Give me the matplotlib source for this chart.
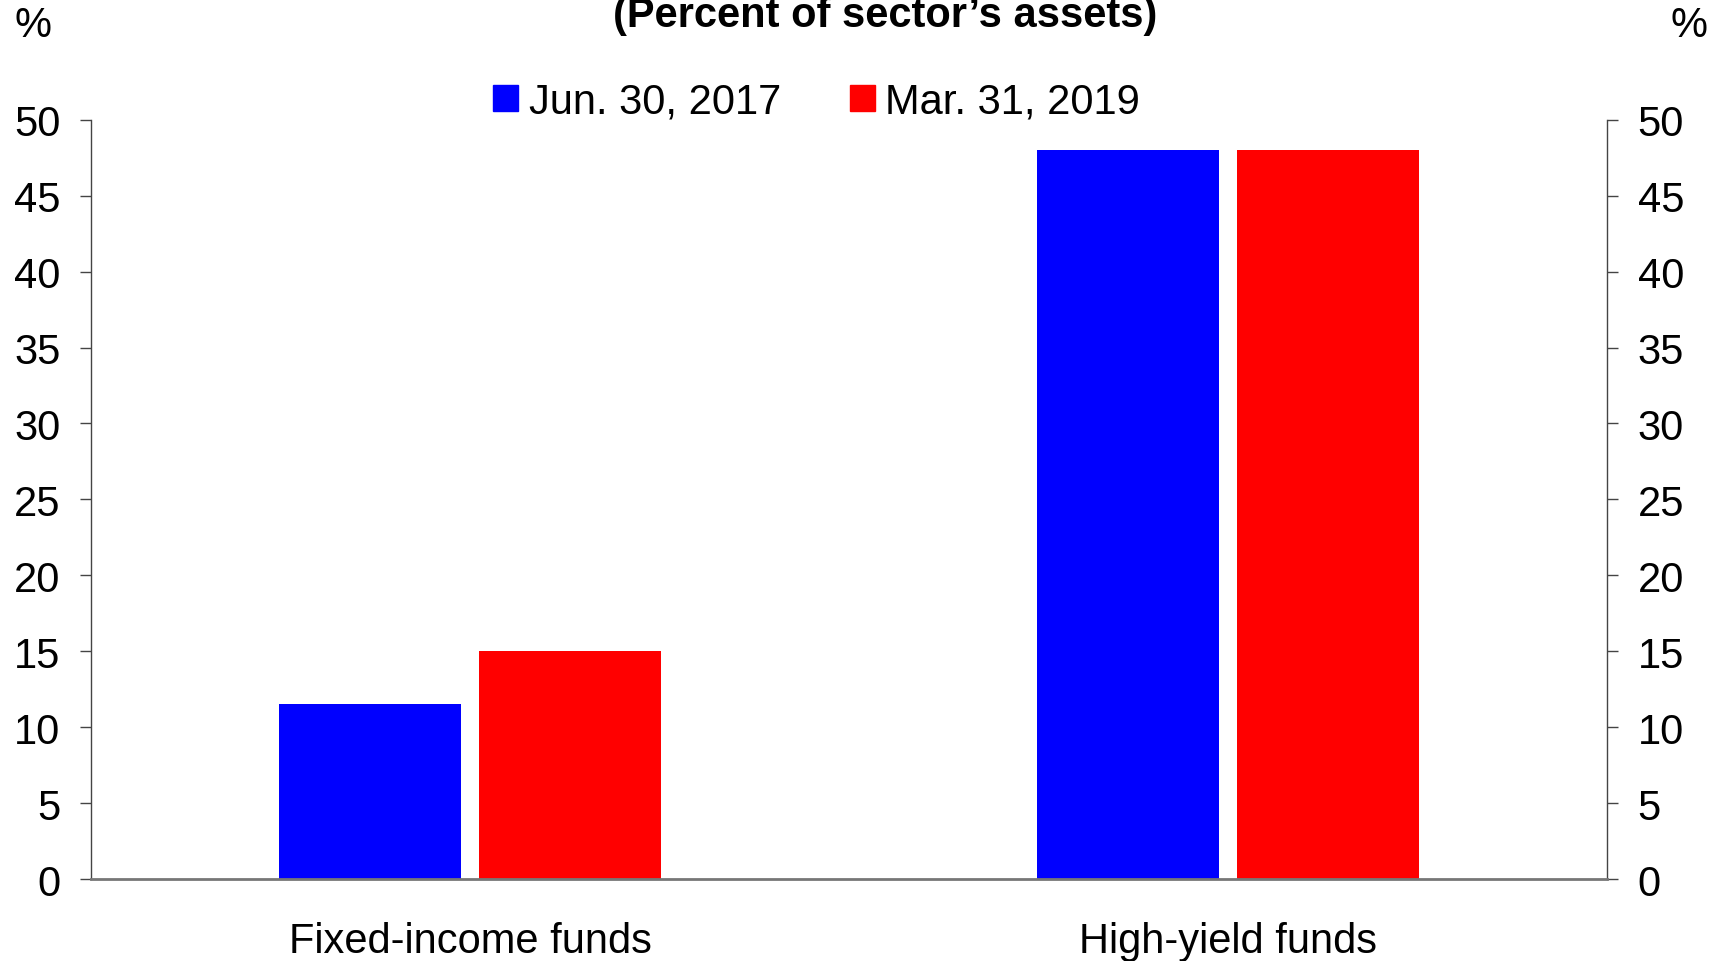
import matplotlib.pyplot as plt
import matplotlib.patches as mpatches
import numpy as np

plt.rcParams['font.family'] = ['Liberation Sans', 'DejaVu Sans']

categorias = ['Fixed-income funds', 'High-yield funds']
series = ['Jun. 30, 2017', 'Mar. 31, 2019']
valores_2017 = [11.5, 48.0]
valores_2019 = [15.0, 48.0]
cores = ['#0000ff', '#ff0000']

fig = plt.figure(figsize=(17.2, 9.62), dpi=100)
ax = fig.add_axes([0.0529, 0.0852, 0.8814, 0.7893])

x = np.arange(len(categorias))
larg = 0.241
desl = 0.132
ax.bar(x - desl, valores_2017, larg, color=cores[0], zorder=2)
ax.bar(x + desl, valores_2019, larg, color=cores[1], zorder=2)

ax.set_xlim(-0.5, 1.5)
ax.set_ylim(0, 50)
ax.set_yticks(range(0, 51, 5))
ax.set_xticks(x)
ax.set_xticklabels(categorias, fontsize=30)
ax.tick_params(axis='x', length=0, pad=30)
ax.tick_params(axis='y', labelsize=30, length=8, width=1, color='#444444',
               direction='out', left=True, right=True, labelright=True, pad=14)

ax.spines['top'].set_visible(False)
for lado in ['left', 'right']:
    ax.spines[lado].set_color('#444444')
    ax.spines[lado].set_linewidth(1)
ax.spines['bottom'].set_color('#777777')
ax.spines['bottom'].set_linewidth(2)

fig.text(0.5145, 0.972, "(Percent of sector\u2019s assets)", ha='center', va='baseline',
         fontsize=30, fontweight='bold')
fig.text(0.019, 0.962, '%', ha='center', va='baseline', fontsize=30)
fig.text(0.982, 0.962, '%', ha='center', va='baseline', fontsize=30)

alcas = [mpatches.Patch(color=c, label=s) for c, s in zip(cores, series)]
fig.legend(handles=alcas, loc='center', bbox_to_anchor=(0.4747, 0.893), ncol=2,
           frameon=False, fontsize=30, handlelength=0.6, handleheight=0.6,
           handletextpad=0.25, columnspacing=1.65, borderpad=0)

fig.savefig('out.png', dpi=100)
